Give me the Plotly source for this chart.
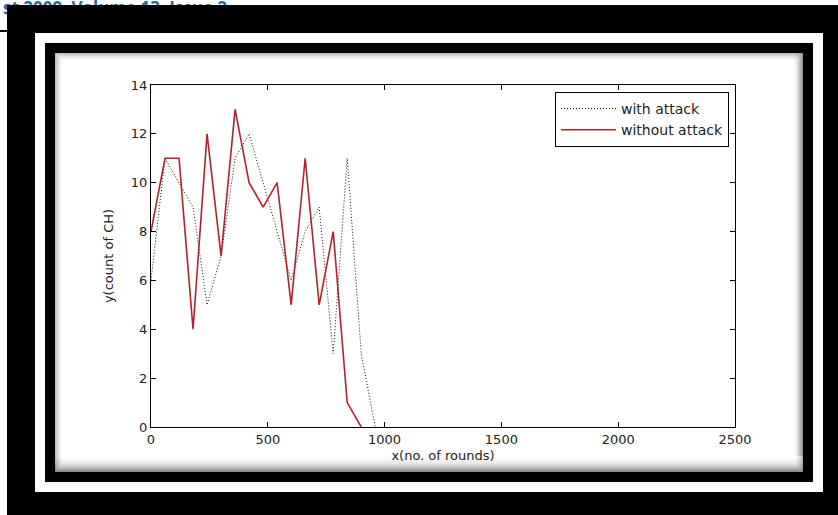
import plotly.graph_objects as go

# ---- data ----
rounds_with = [0, 60, 120, 180, 240, 300, 360, 420, 480, 540, 600, 660, 720, 780, 840, 900, 960]
ch_with = [6, 11, 10, 9, 5, 7, 11, 12, 10, 8, 6, 8, 9, 3, 11, 3, 0]

rounds_without = [0, 60, 120, 180, 240, 300, 360, 420, 480, 540, 600, 660, 720, 780, 840, 900]
ch_without = [8, 11, 11, 4, 12, 7, 13, 10, 9, 10, 5, 11, 5, 8, 1, 0]

x_ticks = [0, 500, 1000, 1500, 2000, 2500]
y_ticks = [0, 2, 4, 6, 8, 10, 12, 14]
series_names = ["with attack", "without attack"]
x_title = "x(no. of rounds)"
y_title = "y(count of CH)"
header_text = "st 2009, Volume 13, Issue 2"

W, H = 838, 515
FONT = "DejaVu Sans"


def fx(px):
    return px / W


def fy(py):
    return 1 - py / H


fig = go.Figure()

fig.add_trace(go.Scatter(
    x=rounds_with, y=ch_with, mode="lines", name=series_names[0],
    line=dict(color="#111111", width=1, dash="1px,2px"),
))
fig.add_trace(go.Scatter(
    x=rounds_without, y=ch_without, mode="lines", name=series_names[1],
    line=dict(color="#b3222c", width=1.6),
))

# header text (partly hidden behind the frame) on an overlay pixel axis
fig.add_trace(go.Scatter(
    x=[0], y=[10], mode="text", text=[f"<b>{header_text}</b>"],
    textposition="middle right", showlegend=False, hoverinfo="skip",
    textfont=dict(family="Open Sans", size=17, color="#2a67a0"),
    xaxis="x2", yaxis="y2", cliponaxis=False,
))

shapes = []


def rect(x0, y0, x1, y1, color, layer="above", line=None):
    d = dict(type="rect", xref="paper", yref="paper",
             x0=fx(x0), x1=fx(x1), y0=fy(y1), y1=fy(y0),
             fillcolor=color, layer=layer, line=dict(width=0))
    if line is not None:
        d["fillcolor"] = "rgba(0,0,0,0)"
        d["line"] = line
    shapes.append(d)


# outer black band
rect(7, 5, 838, 33, "black")
rect(7, 492, 838, 515, "black")
rect(7, 5, 35, 515, "black")
rect(823, 5, 838, 515, "black")
# inner black band
rect(45, 43, 813, 53, "black")
rect(45, 472, 813, 482, "black")
rect(45, 43, 55, 482, "black")
rect(803, 43, 813, 482, "black")
# small line top-left
rect(0, 30, 7, 32, "black")

# inner shadow of the panel
n = 8
for i in range(n):
    a = 0.30 * (1 - i / n) ** 1.6
    rect(55 + i, 53 + i, 803 - i, 472 - i, None,
         line=dict(color=f"rgba(0,0,0,{a:.3f})", width=1))
# thicker shading along the bottom and right
nb = 16
for i in range(nb):
    a = 0.28 * (1 - i / nb) ** 1.5
    rect(55, 471 - i, 803, 472 - i, f"rgba(0,0,0,{a:.3f})")
nr = 10
for i in range(nr):
    a = 0.22 * (1 - i / nr) ** 1.5
    rect(802 - i, 53, 803 - i, 472 - nb, f"rgba(0,0,0,{a:.3f})")

axis_common = dict(
    showline=True, linecolor="black", linewidth=1, mirror="ticks",
    ticks="inside", ticklen=5, tickcolor="black", tickwidth=1,
    showgrid=False, zeroline=False, automargin=False,
    tickfont=dict(family=FONT, size=13, color="#222222"),
)

fig.update_layout(
    template="none",
    width=W, height=H, autosize=False,
    margin=dict(l=0, r=0, t=0, b=0, pad=0, autoexpand=False),
    paper_bgcolor="white",
    plot_bgcolor="rgba(0,0,0,0)",
    font=dict(family=FONT, size=13, color="#222222"),
    showlegend=True,
    xaxis=dict(
        domain=[fx(151), fx(735)], range=[0, 2500], tickvals=x_ticks,
        title=dict(text=x_title, standoff=5, font=dict(family=FONT, size=13, color="#222222")),
        anchor="y", **axis_common,
    ),
    yaxis=dict(
        domain=[fy(427), fy(85)], range=[0, 14], tickvals=y_ticks,
        title=dict(text=y_title, standoff=14, font=dict(family=FONT, size=13, color="#222222")),
        anchor="x", **axis_common,
    ),
    xaxis2=dict(domain=[0, 1], range=[-3, W - 3], visible=False, anchor="y2",
                fixedrange=True, automargin=False),
    yaxis2=dict(domain=[0, 1], range=[H, 0], visible=False, anchor="x2",
                fixedrange=True, automargin=False),
    legend=dict(
        x=fx(729), y=fy(92), xanchor="right", yanchor="top",
        bgcolor="white", bordercolor="black", borderwidth=1,
        font=dict(family=FONT, size=14, color="#222222"),
        itemwidth=55, tracegroupgap=0,
    ),
    shapes=shapes,
)

fig.write_html(
    "out.html",
    config={"displayModeBar": False},
    post_script="document.body.style.margin='0';document.body.style.padding='0';document.body.style.overflow='hidden';",
)
